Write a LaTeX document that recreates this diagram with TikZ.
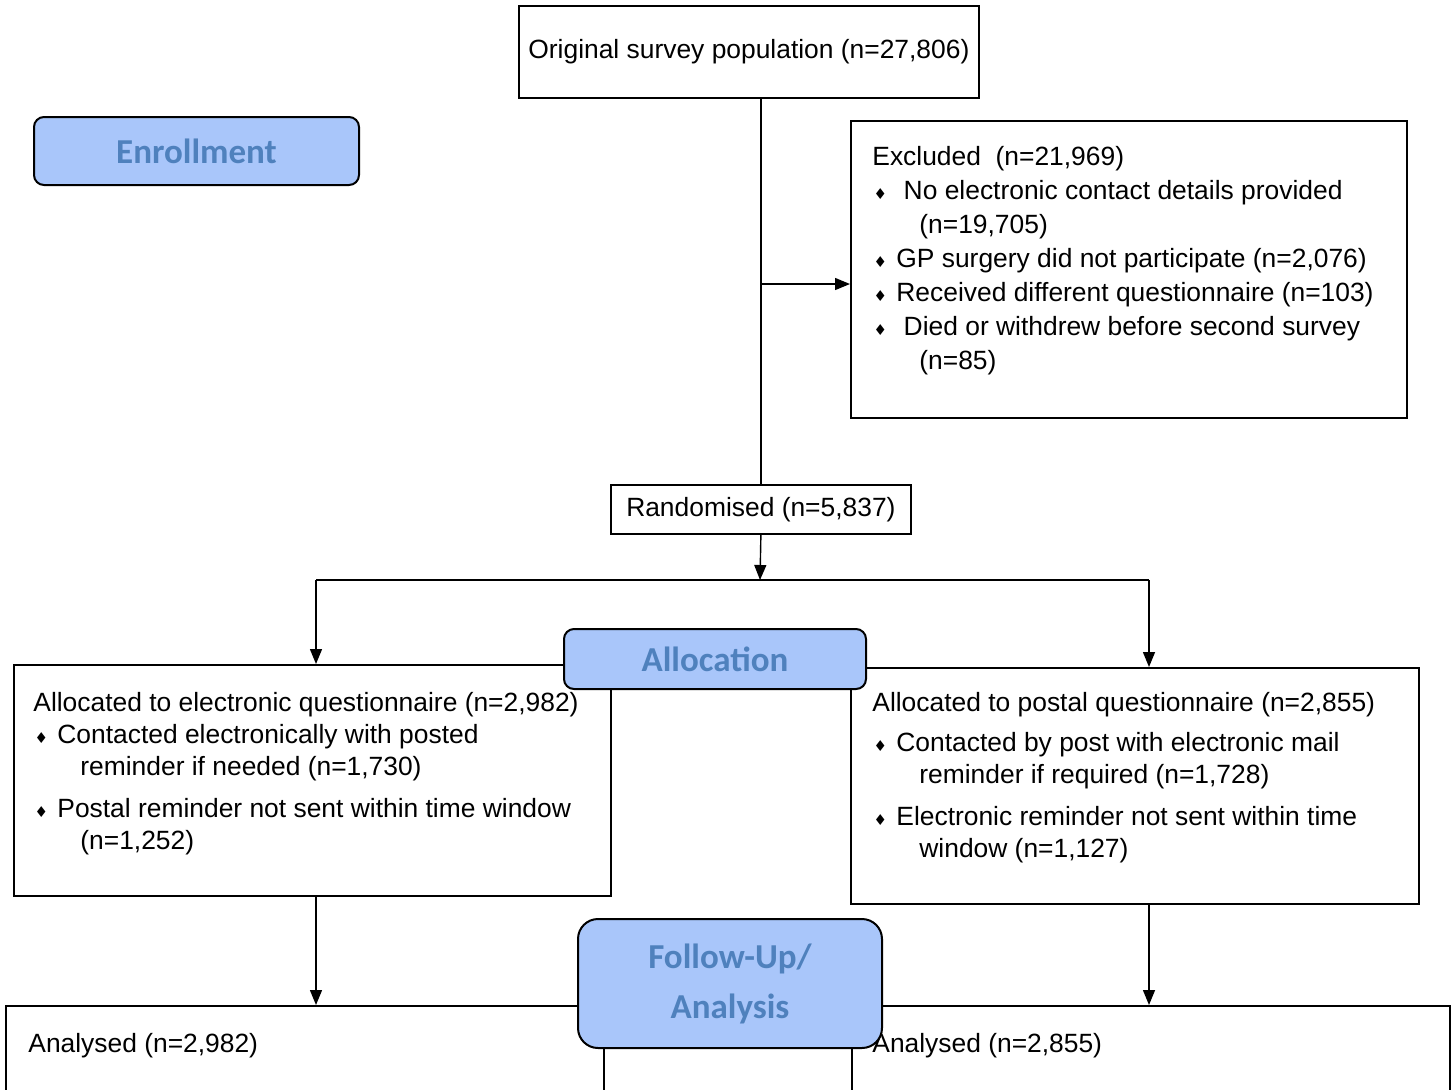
\documentclass[tikz,border=0pt]{standalone}
\usepackage{fontspec}
\setmainfont{Liberation Sans}
\newfontfamily\phasefont{Carlito}
\newfontfamily\symfont{DejaVu Sans}
\usetikzlibrary{arrows.meta}
\definecolor{phasefill}{RGB}{169,198,250}
\definecolor{phasetext}{RGB}{79,129,189}
\newcommand{\bul}{\hspace*{0.5pt}\makebox[7pt]{\symfont\fontsize{7.5}{7.5}\selectfont ♦}\hspace*{4.5pt}}
\newcommand{\cont}{\hspace*{23.5pt}}

\begin{document}
\begin{tikzpicture}[x=0.5pt,y=-0.5pt,
  flowbox/.style={draw,line width=0.9pt,inner sep=0pt,anchor=north west,font=\fontsize{13.2}{16}\selectfont},
  boxtext/.style={inner sep=0pt,anchor=north west,align=left,font=\fontsize{13.2}{16}\selectfont},
  phase/.style={draw,line width=1pt,fill=phasefill,text=phasetext,inner sep=0pt,anchor=north west,align=center,font=\phasefont\bfseries\fontsize{17.5}{25}\selectfont},
  link/.style={line width=0.7pt},
  arr/.style={link,-{Triangle[length=7.5pt,width=6pt]}}]
  \useasboundingbox (0,0) rectangle (1452,1089);
  \clip (0,0) rectangle (1452,1089);

  % enrollment
  \node[flowbox,minimum width=230pt,minimum height=46pt] (orig) at (518,5) {Original survey population (n=27,806)};
  \node[flowbox,minimum width=278pt,minimum height=148.5pt] (excl) at (850,120) {};
  \node[boxtext,font=\fontsize{13.2}{17}\selectfont] (excltxt) at (872,146) {Excluded\ \ (n=21,969)\\
    \bul\ No electronic contact details provided\\
    \cont(n=19,705)\\
    \bul GP surgery did not participate (n=2,076)\\
    \bul Received different questionnaire (n=103)\\
    \bul\ Died or withdrew before second survey\\
    \cont(n=85)};
  \node[flowbox,minimum width=150pt,minimum height=24.5pt] (rand) at (610,484) {Randomised (n=5,837)};

  % allocation
  \node[flowbox,minimum width=298.5pt,minimum height=115.5pt] (elec) at (13,664) {};
  \node[boxtext] (electxt) at (33,692) {Allocated to electronic questionnaire (n=2,982)\\
    \bul Contacted electronically with posted\\
    \cont reminder if needed (n=1,730)\\[5pt]
    \bul Postal reminder not sent within time window\\
    \cont(n=1,252)};
  \node[flowbox,minimum width=284pt,minimum height=118pt] (post) at (850,667) {};
  \node[boxtext] (posttxt) at (872,692) {Allocated to postal questionnaire (n=2,855)\\[4pt]
    \bul Contacted by post with electronic mail\\
    \cont reminder if required (n=1,728)\\[5pt]
    \bul Electronic reminder not sent within time\\
    \cont window (n=1,127)};

  % analysis
  \node[flowbox,minimum width=299pt,minimum height=70pt] (anaE) at (5,1005) {};
  \node[boxtext] (anaEtxt) at (28,1033) {Analysed (n=2,982)};
  \node[flowbox,minimum width=299pt,minimum height=70pt] (anaP) at (851,1005) {};
  \node[boxtext] (anaPtxt) at (872,1033) {Analysed (n=2,855)};

  % connectors
  \coordinate (split) at (760,284);
  \coordinate (fork) at (760,580);
  \coordinate (forkE) at (316,580);
  \coordinate (forkP) at (1149,580);
  \draw[link] (rand.north |- orig.south) -- (rand.north);
  \draw[arr] (split) -- (split -| excl.west);
  \draw[arr] (rand.south) -- (fork);
  \draw[link] (forkE) -- (forkP);
  \draw[arr] (forkE) -- (forkE |- elec.north);
  \draw[arr] (forkP) -- (forkP |- post.north);
  \draw[arr] (forkE |- elec.south) -- (forkE |- anaE.north);
  \draw[arr] (forkP |- post.south) -- (forkP |- anaP.north);

  % phase labels
  \node[phase,rounded corners=5pt,minimum width=162.5pt,minimum height=34pt] (enroll) at (33,116) {Enrollment};
  \node[phase,rounded corners=5pt,minimum width=151pt,minimum height=30pt] (alloc) at (563,628) {Allocation};
  \node[phase,rounded corners=10pt,minimum width=152pt,minimum height=64.5pt] (follow) at (577,918) {Follow-Up/\\Analysis};
\end{tikzpicture}
\end{document}
